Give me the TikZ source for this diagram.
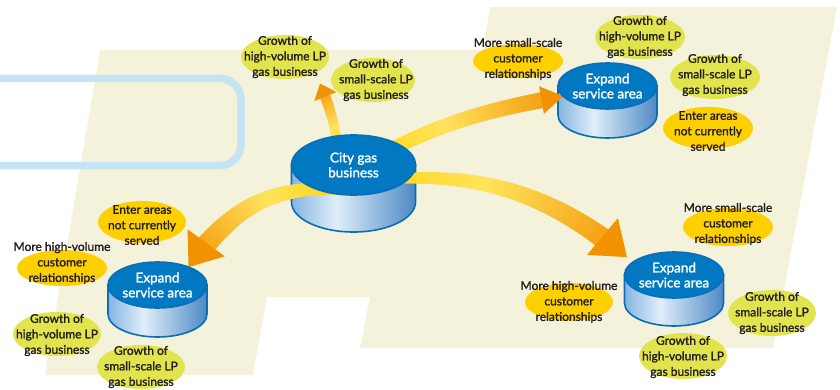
\documentclass[tikz,border=0pt]{standalone}
\usepackage{fontspec}
\setmainfont{Lato}[RawFeature={embolden=1.6}]
\usetikzlibrary{shapes.geometric,positioning,calc,decorations.markings}
\usepackage{xcolor}
\definecolor{paper}{RGB}{245,242,220}
\definecolor{frameblue}{RGB}{198,226,245}
\definecolor{drumblue}{RGB}{0,121,194}
\definecolor{drumedge}{RGB}{10,109,181}
\definecolor{sideleft}{RGB}{133,181,224}
\definecolor{sidemid}{RGB}{224,238,250}
\definecolor{sideright}{RGB}{77,137,196}
\definecolor{bubgreen}{RGB}{226,228,78}
\definecolor{bubgold}{RGB}{255,208,0}
\definecolor{arrowgold}{RGB}{255,210,0}
\definecolor{arrowlight}{RGB}{255,228,94}
\definecolor{arroworange}{RGB}{243,146,0}
\definecolor{ink}{RGB}{35,31,32}

\pgfdeclarehorizontalshading{drumside}{100bp}{color(0bp)=(sideleft); color(25bp)=(sideleft); color(43bp)=(sidemid); color(75bp)=(sideright); color(100bp)=(sideright)}

\pgfdeclarelayer{bg}
\pgfdeclarelayer{sides}
\pgfdeclarelayer{arrows}
\pgfsetlayers{bg,sides,arrows,main}

\tikzset{
  drumtop/.style={ellipse,fill=drumblue,draw=drumedge,line width=1.6pt,minimum width=99pt,minimum height=46pt,inner sep=0pt,outer sep=0pt},
  drumtext/.style={text=white,font=\fontsize{13.5}{15}\selectfont,align=center,inner sep=0pt},
  drumwall/.style={shading=drumside,draw=drumedge,line width=1.6pt},
  gbub/.style={ellipse,fill=bubgreen,minimum width=88pt,minimum height=44pt,inner sep=0pt,outer sep=0pt},
  ybub/.style={ellipse,fill=bubgold,minimum width=90pt,minimum height=38pt,inner sep=0pt,outer sep=0pt},
  bubtext/.style={text=ink,font=\fontsize{12}{15.5}\selectfont,align=center,inner sep=0pt},
  % tail width, shaft width at head, head width, head length
  fat arrow/.style n args={4}{
    postaction={decorate,decoration={markings,
      mark=between positions 0 and -#4pt step 0.5pt with {
        \pgfmathsetmacro\fatpos{\pgfkeysvalueof{/pgf/decoration/mark info/distance from start}/\pgfdecoratedpathlength}
        \pgfmathsetmacro\fatwd{0.5*(#1+(#2-#1)*\fatpos)}
        \pgfmathtruncatemacro\fatlt{100*min(\fatpos/0.45,1)}
        \pgfmathtruncatemacro\fator{100-100*max((\fatpos-0.45)/0.55,0)}
        \fill[arrowlight!\fatlt!arrowgold!\fator!arroworange] (-0.45pt,-\fatwd pt) rectangle (0.45pt,\fatwd pt);
      }}},
    postaction={decorate,decoration={markings,
      mark=at position 1 with {\fill[arroworange] (0pt,0pt) -- (-#4pt,0.5*#3pt) -- (-#4pt,-0.5*#3pt) -- cycle;}}}
  }
}

\begin{document}
\begin{tikzpicture}[x=1pt,y=1pt]
  \useasboundingbox (0,0) rectangle (840,389);

  % Backdrop
  \begin{pgfonlayer}{bg}
    \fill[paper] (100,339) -- (483,339) -- (490,382) -- (837,382) -- (773,41) -- (360,41)
      -- (370,92) -- (267,92) -- (253,14) -- (45,14) -- cycle;
    \draw[frameblue,line width=7.5pt,rounded corners=21pt] (-20,310.5) -- (241,310.5) -- (241,223.5) -- (-20,223.5);
  \end{pgfonlayer}

  % Drums
  \node[drumtop,minimum width=124pt,minimum height=60pt,label={[drumtext]center:City gas\\business}] (city) at (353.5,224) {};
  \node[drumtop,label={[drumtext]center:Expand\\service area}] (exp1) at (607.5,303) {};
  \node[drumtop,label={[drumtext]center:Expand\\service area}] (exp2) at (157.5,104) {};
  \node[drumtop,label={[drumtext]center:Expand\\service area}] (exp3) at (674,114) {};

  \begin{pgfonlayer}{sides}
    \shade[drumwall] (city.west) -- ++(0,-37) arc[start angle=180,end angle=360,x radius=62,y radius=30] -- (city.east) -- cycle;
    \shade[drumwall] (exp1.west) -- ++(0,-29) arc[start angle=180,end angle=360,x radius=49.5,y radius=23] -- (exp1.east) -- cycle;
    \shade[drumwall] (exp2.west) -- ++(0,-29) arc[start angle=180,end angle=360,x radius=49.5,y radius=23] -- (exp2.east) -- cycle;
    \shade[drumwall] (exp3.west) -- ++(0,-28) arc[start angle=180,end angle=360,x radius=49.5,y radius=23] -- (exp3.east) -- cycle;
  \end{pgfonlayer}

  % Top group
  \node[gbub,label={[bubtext]center:Growth of\\high-volume LP\\gas business}] (b1) at (285,332) {};
  \node[gbub,minimum width=84pt,label={[bubtext,xshift=3pt]center:Growth of\\small-scale LP\\gas business}] (b2) at (373,309) {};

  % Upper right group
  \node[ybub,minimum height=34pt,label={[bubtext,yshift=2pt]center:More small-scale\\customer\\relationships}] (b3) at (518,328) {};
  \node[gbub,minimum width=90pt,label={[bubtext]center:Growth of\\high-volume LP\\gas business}] (b4) at (640,352) {};
  \node[gbub,minimum width=90pt,label={[bubtext,yshift=2pt]center:Growth of\\small-scale LP\\gas business}] (b5) at (715,312) {};
  \node[ybub,minimum height=42pt,label={[bubtext,yshift=-3pt]center:Enter areas\\not currently\\served}] (b6) at (708,261) {};

  % Lower left group
  \node[ybub,minimum width=88pt,minimum height=42pt,label={[bubtext,yshift=-3pt]center:Enter areas\\not currently\\served}] (b7) at (142,167) {};
  \node[ybub,minimum height=36pt,label={[bubtext,yshift=5pt]center:More high-volume\\customer\\relationships}] (b8) at (62,121) {};
  \node[gbub,label={[bubtext,yshift=-1pt]center:Growth of\\high-volume LP\\gas business}] (b9) at (57,55) {};
  \node[gbub,label={[bubtext]center:Growth of\\small-scale LP\\gas business}] (b10) at (141,22) {};

  % Lower right group
  \node[ybub,label={[bubtext,yshift=3pt]center:More small-scale\\customer\\relationships}] (b11) at (728,162) {};
  \node[ybub,minimum width=88pt,label={[bubtext]center:More high-volume\\customer\\relationships}] (b12) at (569,87) {};
  \node[gbub,minimum height=46pt,label={[bubtext]center:Growth of\\small-scale LP\\gas business}] (b13) at (772,76) {};
  \node[gbub,minimum height=46pt,label={[bubtext,yshift=-1pt]center:Growth of\\high-volume LP\\gas business}] (b14) at (683,33) {};

  % Arrows out of the city gas drum
  \begin{pgfonlayer}{arrows}
    \path[fat arrow={8}{11}{24}{14}] ([xshift=-15pt]city.center) to[out=92,in=-68] ([shift={(4pt,-11pt)}]b1.south east);
    \path[fat arrow={13}{16}{28}{22}] ([yshift=-5pt]city.center) to[out=30,in=190] (exp1.193);
    \path[fat arrow={10}{22}{46}{30}] ([yshift=-25pt]city.center) to[out=175,in=54,looseness=1.1] (exp2.30);
    \path[fat arrow={8}{22}{48}{32}] ([yshift=-18pt]city.center) to[out=8,in=140] ([xshift=-16pt]exp3.150);
  \end{pgfonlayer}
\end{tikzpicture}
\end{document}
